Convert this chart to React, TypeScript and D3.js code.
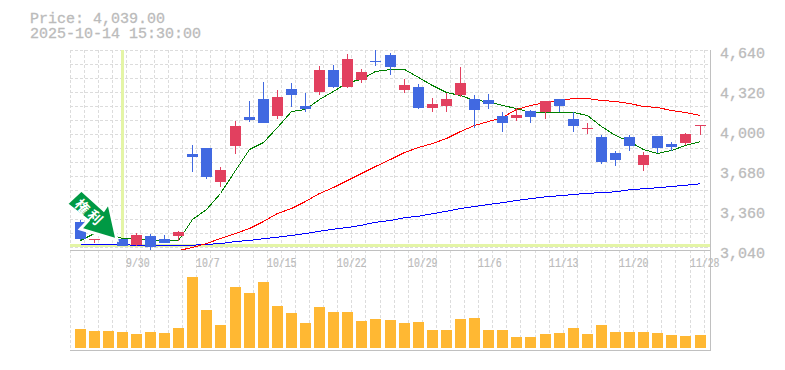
import React from "react";
import * as d3 from "d3";

const priceTicks = [4640, 4320, 4000, 3680, 3360, 3040];
const dateLabels: [number, string][] = [[4, "9/30"], [9, "10/7"], [14, "10/15"], [19, "10/22"], [24, "10/29"], [29, "11/6"], [34, "11/13"], [39, "11/20"], [44, "11/28"]];
const opens = [3264,3120,3208,3128,3080,3152,3128,3152,3808,3856,3584,3872,4104,4248,4112,4328,4192,4304,4480,4344,4400,4552,4600,4320,4344,4176,4192,4280,4248,4240,4112,4096,4152,4144,4248,4088,4008,3944,3816,3944,3720,3952,3888,3896,4032];
const closes = [3128,3128,3176,3072,3160,3064,3096,3184,3784,3624,3680,4032,4080,4056,4264,4280,4168,4480,4344,4568,4464,4544,4504,4360,4176,4208,4248,4376,4160,4208,4056,4120,4104,4232,4192,4032,4016,3744,3760,3872,3800,3856,3864,3968,4040];
const highs = [3280,3128,3208,3128,3176,3168,3160,3192,3880,3856,3704,4072,4232,4384,4320,4376,4296,4512,4520,4608,4488,4640,4616,4408,4368,4256,4296,4504,4280,4288,4144,4176,4160,4232,4248,4144,4056,3960,3832,3960,3824,3952,3904,3976,4040];
const lows = [3120,3096,3160,3072,3072,3040,3096,3112,3664,3608,3544,3808,4064,4056,4088,4184,4144,4280,4336,4336,4376,4512,4440,4296,4168,4144,4144,4264,4016,4168,3984,4072,4056,4088,4144,3984,3968,3728,3712,3832,3672,3816,3832,3880,3960];
const maShort = [3120,3176,3176,3136,3136,3120,3120,3120,3288,3368,3496,3680,3848,3904,4024,4152,4168,4248,4312,4384,4408,4472,4488,4488,4424,4360,4304,4280,4240,4232,4200,4176,4144,4144,4144,4144,4120,4032,3960,3912,3848,3816,3840,3880,3912];
const maMidStart = 7;
const maMid = [3040,3064,3096,3136,3176,3216,3272,3336,3376,3432,3496,3544,3600,3656,3712,3768,3824,3864,3896,3936,3992,4040,4072,4104,4168,4200,4224,4240,4256,4256,4240,4232,4216,4192,4184,4160,4144,4120];
const maLong = [3088,3088,3088,3088,3080,3080,3080,3080,3082,3090,3094,3112,3120,3134,3146,3160,3176,3194,3210,3224,3242,3266,3280,3302,3314,3334,3354,3376,3392,3408,3422,3440,3454,3470,3478,3488,3498,3502,3510,3526,3534,3542,3552,3562,3574];
const volumes = [190,170,170,160,140,160,150,200,710,380,230,610,550,660,420,350,250,410,360,360,270,290,280,250,260,180,180,290,300,180,180,110,110,140,150,200,140,230,160,160,160,150,130,120,130];
const priceText = "Price: 4,039.00";
const timeText = "2025-10-14 15:30:00";
const markerLabel = ["権", "利"];
const markerIndex = 3;
const markerPrice = 3120;

const W = 785, H = 370;
const RED = "#e2405f", BLUE = "#4169e1", ORANGE = "#ffb833", GRID = "#dcdcdc", AXIS = "#c0c0c0", TEXT = "#bbbbbb", CURSOR = "#e4f5a6";
const MONO = "'Liberation Mono', monospace";

export default function App() {
  const pitch = 620 / 44;
  const slot = d3.scaleLinear().domain([0, 44]).range([75, 75 + pitch * 44]);
  const left = (i: number) => Math.floor(slot(i) + 1e-6);
  const cx = (i: number) => left(i) + 5.5;
  const gridX = (k: number) => Math.floor(70 + pitch * k + 1e-6) + 0.5;
  const gridY = (k: number) => Math.floor(50 + pitch * k + 1e-6) + 0.5;
  const y = d3.scaleLinear().domain([3040, 4640]).range([250, 50]);
  const v = d3.scaleLinear().domain([0, 710]).range([348, 277]);

  const line = (start: number) =>
    d3.line<number>().x((_, i) => cx(i + start)).y((d) => y(d) + 0.5);

  const tipX = cx(markerIndex) - 5.5, tipY = y(markerPrice);
  const arrow = [[-50.6, -36], [-35.6, -50], [-13.3, -30], [-8.3, -37.3], [0, 0], [-36.6, -11], [-29, -19.3]]
    .map(([a, b]) => `${tipX + a},${tipY + b}`).join(" ");

  const vGrid = d3.range(0, 46), hGrid = d3.range(0, 15);

  return (
    <svg width={W} height={H} style={{ position: "absolute", left: 0, top: 0, background: "#fff" }}>
      <g shapeRendering="crispEdges" stroke={GRID} strokeDasharray="3 2">
        {vGrid.map((k) => <line key={k} x1={gridX(k)} x2={gridX(k)} y1={50} y2={350} />)}
        {hGrid.map((k) => <line key={k} x1={70} x2={710} y1={gridY(k)} y2={gridY(k)} />)}
      </g>
      <g fill={CURSOR} shapeRendering="crispEdges">
        <rect x={121} y={50} width={3} height={197} />
        <rect x={70} y={244} width={640} height={3} />
      </g>
      <g fill="none" strokeWidth={1} shapeRendering="crispEdges">
        <path d={line(0)(maLong)!} stroke="#0000ff" />
        <path d={line(maMidStart)(maMid)!} stroke="#ff0000" />
        <path d={line(0)(maShort)!} stroke="#008000" />
      </g>
      <g shapeRendering="crispEdges">
        {opens.map((o, i) => {
          const c = closes[i];
          const color = c >= o ? RED : BLUE;
          const top = y(Math.max(o, c));
          const bot = y(Math.min(o, c));
          return (
            <g key={i} fill={color}>
              <rect x={left(i) + 5} y={y(highs[i])} width={1} height={y(lows[i]) - y(highs[i])} />
              <rect x={left(i)} y={top} width={11} height={Math.max(1, bot - top)} />
            </g>
          );
        })}
        {volumes.map((d, i) => (
          <rect key={i} x={left(i)} y={v(d)} width={11} height={v(0) - v(d)} fill={ORANGE} />
        ))}
      </g>
      <g stroke={AXIS} shapeRendering="crispEdges">
        <line x1={70} x2={711} y1={250.5} y2={250.5} />
        <line x1={70} x2={711} y1={350.5} y2={350.5} />
        <line x1={710.5} x2={710.5} y1={50} y2={351} />
      </g>
      <polygon points={arrow} fill="#009944" stroke="#fff" strokeWidth={3} strokeLinejoin="miter" />
      {markerLabel.map((t, i) => {
        const tx = tipX - 34 + i * 12.7, ty = tipY - 34 + i * 10.7;
        return (
          <text key={t} x={0} y={0} transform={`translate(${tx},${ty}) rotate(45)`} textAnchor="middle" dominantBaseline="central"
            fontFamily="'Noto Sans CJK JP'" fontWeight={700} fontSize={14} fill="#fff">{t}</text>
        );
      })}
      <g fontFamily={MONO} fill={TEXT} stroke={TEXT} strokeWidth={0.3} fontSize={15} style={{ opacity: 0.999 }}>
        <text x={30} y={23}>{priceText}</text>
        <text x={30} y={38}>{timeText}</text>
        {priceTicks.map((p) => (
          <text key={p} x={720} y={y(p) + 8}>{d3.format(",")(p)}</text>
        ))}
      </g>
      <g fontFamily={MONO} fill={TEXT} stroke={TEXT} strokeWidth={0.2} fontSize={12} style={{ opacity: 0.999 }}>
        {dateLabels.map(([k, t]) => (
          <text key={t} x={Math.floor(gridX(k))} y={266.5} textLength={t.length * 5.9} lengthAdjust="spacingAndGlyphs">{t}</text>
        ))}
      </g>
    </svg>
  );
}
